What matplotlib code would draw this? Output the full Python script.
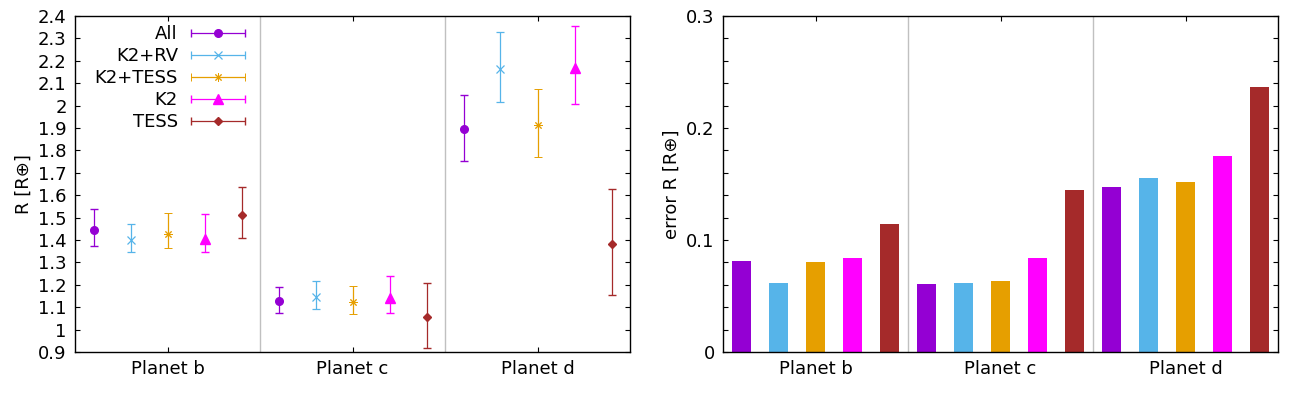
import matplotlib
matplotlib.use("Agg")
import matplotlib.pyplot as plt
from matplotlib.container import ErrorbarContainer
from matplotlib.legend_handler import HandlerErrorbar
from matplotlib.ticker import MultipleLocator
import numpy as np

# --------------------------------------------------------------------
# Data (planet radius, in Earth radii)
# --------------------------------------------------------------------
planets = ["Planet b", "Planet c", "Planet d"]
series = ["All", "K2+RV", "K2+TESS", "K2", "TESS"]

r_all = [1.443, 1.126, 1.894]
r_k2rv = [1.399, 1.146, 2.162]
r_k2tess = [1.427, 1.122, 1.912]
r_k2 = [1.406, 1.140, 2.166]
r_tess = [1.510, 1.055, 1.383]

# upper / lower error bars
up_all = [0.094, 0.066, 0.152]
up_k2rv = [0.072, 0.070, 0.165]
up_k2tess = [0.092, 0.071, 0.161]
up_k2 = [0.109, 0.098, 0.188]
up_tess = [0.127, 0.152, 0.243]

lo_all = [0.072, 0.053, 0.143]
lo_k2rv = [0.054, 0.055, 0.147]
lo_k2tess = [0.064, 0.054, 0.141]
lo_k2 = [0.061, 0.067, 0.160]
lo_tess = [0.102, 0.138, 0.230]

# mean error shown in the bar chart
err_all = [0.081, 0.061, 0.147]
err_k2rv = [0.062, 0.062, 0.155]
err_k2tess = [0.080, 0.063, 0.152]
err_k2 = [0.084, 0.084, 0.175]
err_tess = [0.114, 0.145, 0.237]

radius = [r_all, r_k2rv, r_k2tess, r_k2, r_tess]
upper = [up_all, up_k2rv, up_k2tess, up_k2, up_tess]
lower = [lo_all, lo_k2rv, lo_k2tess, lo_k2, lo_tess]
errors = [err_all, err_k2rv, err_k2tess, err_k2, err_tess]

colors = ["#9400D3", "#56B4E9", "#E69F00", "#FF00FF", "#A52A2A"]
markers = ["o", "x", (8, 2, 0), "^", "D"]
msizes = [5.5, 5.5, 6.0, 6.5, 4.5]
medges = [1.0, 0.9, 0.7, 1.0, 1.0]

plt.rcParams["font.family"] = ["DejaVu Sans"]
plt.rcParams["font.size"] = 13

fig = plt.figure(figsize=(13.02, 3.94), dpi=100)
ax1 = fig.add_axes([75 / 1302, 42 / 394, 555 / 1302, 336 / 394])
ax2 = fig.add_axes([723 / 1302, 42 / 394, 555 / 1302, 336 / 394])

base = np.arange(len(planets))
centers = base + 0.5
offsets = [0.1 + 0.2 * i for i in range(len(series))]


def _style(ax):
    ax.set_xlim(0, len(planets))
    ax.set_xticks(centers)
    ax.set_xticklabels(planets)
    # separators between planets
    for b in base[1:]:
        ax.axvline(b, color="#c0c0c0", lw=1.0, zorder=0)
    ax.tick_params(which="both", direction="in", top=True, right=True,
                   length=3.5, width=0.8, labelsize=13, pad=6)
    for s in ax.spines.values():
        s.set_linewidth(1.0)


# --------------------------------------------------------------------
# Left: radius with asymmetric error bars
# --------------------------------------------------------------------
handles = []
for i, name in enumerate(series):
    eb = ax1.errorbar(base + offsets[i], radius[i],
                      yerr=[lower[i], upper[i]], linestyle="none",
                      marker=markers[i], ms=msizes[i], mew=medges[i],
                      color=colors[i], elinewidth=0.9, capsize=3,
                      capthick=0.9)
    # legend sample drawn as a horizontal error bar (gnuplot style)
    handles.append(ErrorbarContainer((eb[0], eb[1], eb[2]),
                                     has_xerr=True, has_yerr=False,
                                     label=name))

_style(ax1)
ax1.set_ylim(0.9, 2.4)
ax1.yaxis.set_major_locator(MultipleLocator(0.1))
ax1.yaxis.set_major_formatter(lambda v, p: f"{v:.1f}".rstrip("0").rstrip("."))
ax1.set_ylabel("R [R\u2295]", fontsize=13)

leg = ax1.legend(handles=handles, loc="upper left",
                 bbox_to_anchor=(0.019, 1.0), frameon=False,
                 markerfirst=False, handlelength=3.0, handletextpad=0.7,
                 labelspacing=0.22, borderpad=0, fontsize=13,
                 handler_map={ErrorbarContainer: HandlerErrorbar(xerr_size=1.5)})
for col in leg._legend_handle_box.get_children():
    col.align = "right"

# --------------------------------------------------------------------
# Right: bar chart of the errors
# --------------------------------------------------------------------
for i, name in enumerate(series):
    ax2.bar(base + offsets[i], errors[i], width=0.105, color=colors[i],
            zorder=2)

_style(ax2)
ax2.set_ylim(0, 0.3)
ax2.yaxis.set_major_locator(MultipleLocator(0.1))
ax2.yaxis.set_minor_locator(MultipleLocator(0.02))
ax2.yaxis.set_major_formatter(lambda v, p: f"{v:.1f}".rstrip("0").rstrip(".") if v else "0")
ax2.set_ylabel("error R [R\u2295]", fontsize=13)

fig.savefig("out.png", dpi=100)
plt.close(fig)
